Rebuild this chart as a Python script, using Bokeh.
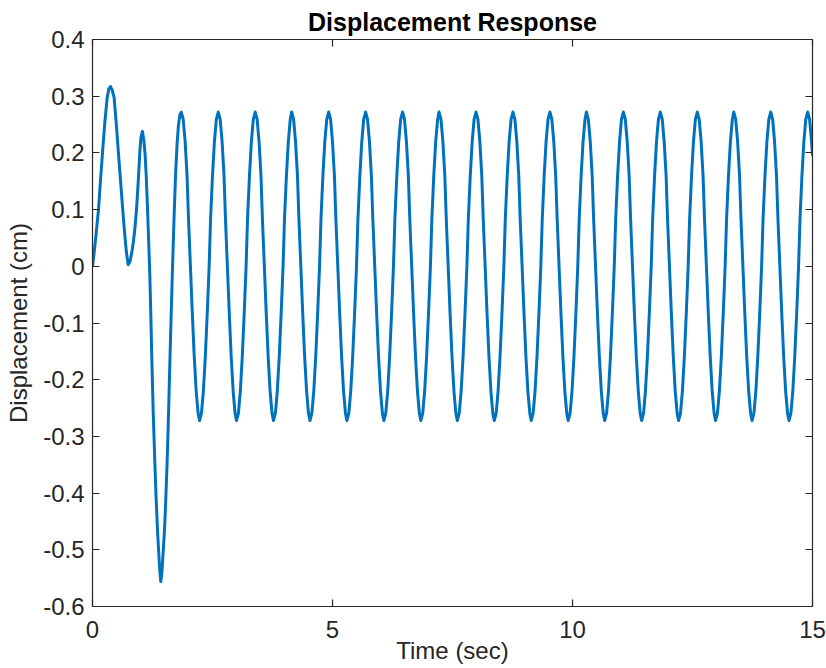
from bokeh.plotting import figure
from bokeh.models import Range1d, LinearAxis, FixedTicker, CustomJSTickFormatter
from bokeh.embed import file_html
from bokeh.resources import INLINE

# ---- data ----
# transient part (time in s, displacement in cm)
t_transient = [0.000, 0.030, 0.060, 0.090, 0.125, 0.165, 0.208, 0.255, 0.305, 0.340,
               0.375, 0.410, 0.450, 0.495, 0.540, 0.585, 0.630, 0.670, 0.705, 0.742,
               0.780, 0.820, 0.850, 0.880, 0.917, 0.950, 0.985, 1.010, 1.040, 1.070,
               1.096, 1.120, 1.145, 1.170, 1.194, 1.215, 1.235, 1.265, 1.298, 1.325,
               1.354, 1.390, 1.405, 1.423, 1.440, 1.455, 1.500, 1.525, 1.555, 1.585,
               1.610, 1.640, 1.667, 1.700, 1.730, 1.760, 1.790, 1.820]
y_transient = [0.000, 0.020, 0.045, 0.070, 0.100, 0.150, 0.200, 0.252, 0.297, 0.313,
               0.317, 0.311, 0.298, 0.252, 0.200, 0.150, 0.100, 0.058, 0.026, 0.003,
               0.008, 0.025, 0.042, 0.064, 0.100, 0.145, 0.200, 0.228, 0.238, 0.222,
               0.197, 0.158, 0.105, 0.045, -0.015, -0.085, -0.160, -0.258, -0.345, -0.408,
               -0.465, -0.520, -0.540, -0.556, -0.545, -0.528, -0.465, -0.415, -0.345, -0.258,
               -0.175, -0.082, -0.002, 0.088, 0.160, 0.213, 0.248, 0.267]

# steady oscillation (time in s, displacement in cm), one row per cycle
t_steady = [
    1.85, 1.89, 1.93, 1.97, 2.00, 2.04, 2.08, 2.12, 2.16, 2.20, 2.23, 2.27, 2.31, 2.35, 2.39, 2.43, 2.46, 2.50, 2.54, 2.58,
    2.62, 2.66, 2.70, 2.74, 2.77, 2.81, 2.85, 2.89, 2.93, 2.97, 3.00, 3.04, 3.08, 3.12, 3.16, 3.20, 3.23, 3.27, 3.31, 3.35,
    3.39, 3.43, 3.47, 3.51, 3.54, 3.58, 3.62, 3.66, 3.70, 3.74, 3.77, 3.81, 3.85, 3.89, 3.93, 3.97, 4.00, 4.04, 4.08, 4.12,
    4.15, 4.19, 4.23, 4.27, 4.30, 4.34, 4.38, 4.42, 4.46, 4.50, 4.53, 4.57, 4.61, 4.65, 4.69, 4.73, 4.76, 4.80, 4.84, 4.88,
    4.92, 4.96, 5.00, 5.04, 5.07, 5.11, 5.15, 5.19, 5.23, 5.27, 5.30, 5.34, 5.38, 5.42, 5.46, 5.50, 5.53, 5.57, 5.61, 5.65,
    5.69, 5.73, 5.77, 5.81, 5.84, 5.88, 5.92, 5.96, 6.00, 6.04, 6.07, 6.11, 6.15, 6.19, 6.23, 6.27, 6.30, 6.34, 6.38, 6.42,
    6.46, 6.50, 6.54, 6.58, 6.61, 6.65, 6.69, 6.73, 6.77, 6.81, 6.84, 6.88, 6.92, 6.96, 7.00, 7.04, 7.07, 7.11, 7.15, 7.19,
    7.22, 7.26, 7.30, 7.34, 7.37, 7.41, 7.45, 7.49, 7.53, 7.57, 7.60, 7.64, 7.68, 7.72, 7.76, 7.80, 7.83, 7.87, 7.91, 7.95,
    7.99, 8.03, 8.07, 8.11, 8.14, 8.18, 8.22, 8.26, 8.30, 8.34, 8.37, 8.41, 8.45, 8.49, 8.53, 8.57, 8.60, 8.64, 8.68, 8.72,
    8.76, 8.80, 8.84, 8.88, 8.91, 8.95, 8.99, 9.03, 9.07, 9.11, 9.14, 9.18, 9.22, 9.26, 9.30, 9.34, 9.37, 9.41, 9.45, 9.49,
    9.53, 9.57, 9.61, 9.65, 9.68, 9.72, 9.76, 9.80, 9.84, 9.88, 9.91, 9.95, 9.99, 10.03, 10.07, 10.11, 10.14, 10.18, 10.22, 10.26,
    10.29, 10.33, 10.37, 10.41, 10.44, 10.48, 10.52, 10.56, 10.60, 10.64, 10.67, 10.71, 10.75, 10.79, 10.83, 10.87, 10.90, 10.94, 10.98, 11.02,
    11.06, 11.10, 11.14, 11.18, 11.21, 11.25, 11.29, 11.33, 11.37, 11.41, 11.44, 11.48, 11.52, 11.56, 11.60, 11.64, 11.67, 11.71, 11.75, 11.79,
    11.83, 11.87, 11.91, 11.95, 11.98, 12.02, 12.06, 12.10, 12.14, 12.18, 12.21, 12.25, 12.29, 12.33, 12.37, 12.41, 12.44, 12.48, 12.52, 12.56,
    12.60, 12.64, 12.68, 12.72, 12.75, 12.79, 12.83, 12.87, 12.91, 12.95, 12.98, 13.02, 13.06, 13.10, 13.14, 13.18, 13.21, 13.25, 13.29, 13.33,
    13.36, 13.40, 13.44, 13.48, 13.51, 13.55, 13.59, 13.63, 13.67, 13.71, 13.74, 13.78, 13.82, 13.86, 13.90, 13.94, 13.97, 14.01, 14.05, 14.09,
    14.13, 14.17, 14.21, 14.25, 14.28, 14.32, 14.36, 14.40, 14.44, 14.48, 14.51, 14.55, 14.59, 14.63, 14.67, 14.71, 14.74, 14.78, 14.82, 14.86,
    14.90, 14.94, 14.98, 15.00,
]
y_steady = [
    0.272, 0.259, 0.220, 0.160, 0.084, 0.000, -0.084, -0.160, -0.220, -0.259, -0.272, -0.259, -0.220, -0.160, -0.084, 0.000, 0.084, 0.160, 0.220, 0.259,
    0.272, 0.259, 0.220, 0.160, 0.084, 0.000, -0.084, -0.160, -0.220, -0.259, -0.272, -0.259, -0.220, -0.160, -0.084, 0.000, 0.084, 0.160, 0.220, 0.259,
    0.272, 0.259, 0.220, 0.160, 0.084, 0.000, -0.084, -0.160, -0.220, -0.259, -0.272, -0.259, -0.220, -0.160, -0.084, 0.000, 0.084, 0.160, 0.220, 0.259,
    0.272, 0.259, 0.220, 0.160, 0.084, 0.000, -0.084, -0.160, -0.220, -0.259, -0.272, -0.259, -0.220, -0.160, -0.084, 0.000, 0.084, 0.160, 0.220, 0.259,
    0.272, 0.259, 0.220, 0.160, 0.084, 0.000, -0.084, -0.160, -0.220, -0.259, -0.272, -0.259, -0.220, -0.160, -0.084, 0.000, 0.084, 0.160, 0.220, 0.259,
    0.272, 0.259, 0.220, 0.160, 0.084, 0.000, -0.084, -0.160, -0.220, -0.259, -0.272, -0.259, -0.220, -0.160, -0.084, 0.000, 0.084, 0.160, 0.220, 0.259,
    0.272, 0.259, 0.220, 0.160, 0.084, 0.000, -0.084, -0.160, -0.220, -0.259, -0.272, -0.259, -0.220, -0.160, -0.084, 0.000, 0.084, 0.160, 0.220, 0.259,
    0.272, 0.259, 0.220, 0.160, 0.084, 0.000, -0.084, -0.160, -0.220, -0.259, -0.272, -0.259, -0.220, -0.160, -0.084, 0.000, 0.084, 0.160, 0.220, 0.259,
    0.272, 0.259, 0.220, 0.160, 0.084, 0.000, -0.084, -0.160, -0.220, -0.259, -0.272, -0.259, -0.220, -0.160, -0.084, 0.000, 0.084, 0.160, 0.220, 0.259,
    0.272, 0.259, 0.220, 0.160, 0.084, 0.000, -0.084, -0.160, -0.220, -0.259, -0.272, -0.259, -0.220, -0.160, -0.084, 0.000, 0.084, 0.160, 0.220, 0.259,
    0.272, 0.259, 0.220, 0.160, 0.084, 0.000, -0.084, -0.160, -0.220, -0.259, -0.272, -0.259, -0.220, -0.160, -0.084, 0.000, 0.084, 0.160, 0.220, 0.259,
    0.272, 0.259, 0.220, 0.160, 0.084, 0.000, -0.084, -0.160, -0.220, -0.259, -0.272, -0.259, -0.220, -0.160, -0.084, 0.000, 0.084, 0.160, 0.220, 0.259,
    0.272, 0.259, 0.220, 0.160, 0.084, 0.000, -0.084, -0.160, -0.220, -0.259, -0.272, -0.259, -0.220, -0.160, -0.084, 0.000, 0.084, 0.160, 0.220, 0.259,
    0.272, 0.259, 0.220, 0.160, 0.084, 0.000, -0.084, -0.160, -0.220, -0.259, -0.272, -0.259, -0.220, -0.160, -0.084, 0.000, 0.084, 0.160, 0.220, 0.259,
    0.272, 0.259, 0.220, 0.160, 0.084, 0.000, -0.084, -0.160, -0.220, -0.259, -0.272, -0.259, -0.220, -0.160, -0.084, 0.000, 0.084, 0.160, 0.220, 0.259,
    0.272, 0.259, 0.220, 0.160, 0.084, 0.000, -0.084, -0.160, -0.220, -0.259, -0.272, -0.259, -0.220, -0.160, -0.084, 0.000, 0.084, 0.160, 0.220, 0.259,
    0.272, 0.259, 0.220, 0.160, 0.084, 0.000, -0.084, -0.160, -0.220, -0.259, -0.272, -0.259, -0.220, -0.160, -0.084, 0.000, 0.084, 0.160, 0.220, 0.259,
    0.272, 0.259, 0.220, 0.195,
]

x_ticks = [0, 5, 10, 15]
y_ticks = [-0.6, -0.5, -0.4, -0.3, -0.2, -0.1, 0.0, 0.1, 0.2, 0.3, 0.4]
y_tick_labels = {-0.6: "-0.6", -0.5: "-0.5", -0.4: "-0.4", -0.3: "-0.3", -0.2: "-0.2",
                 -0.1: "-0.1", 0.0: "0", 0.1: "0.1", 0.2: "0.2", 0.3: "0.3", 0.4: "0.4"}

title_text = "Displacement Response"
x_label = "Time (sec)"
y_label = "Displacement (cm)"

# ---- figure ----
FONT = "Liberation Sans"
TXT = "#262626"
FS = "24px"

p = figure(width=826, height=668, output_backend="svg", toolbar_location=None,
           x_range=Range1d(0, 15), y_range=Range1d(-0.6, 0.4),
           min_border_left=92, min_border_right=14, min_border_top=39, min_border_bottom=62,
           x_axis_label=x_label, y_axis_label=y_label)

p.title.text = title_text
p.title.align = "center"
p.title.text_font = FONT
p.title.text_font_size = "25px"
p.title.text_font_style = "bold"
p.title.text_color = "black"
p.title.standoff = 8

p.grid.visible = False
p.outline_line_color = None
p.background_fill_color = "white"
p.border_fill_color = "white"

p.xaxis.ticker = FixedTicker(ticks=x_ticks)
p.yaxis.ticker = FixedTicker(ticks=y_ticks)
p.yaxis.major_label_overrides = y_tick_labels

for ax in (p.xaxis[0], p.yaxis[0]):
    ax.major_tick_in = 7
    ax.major_tick_out = 0
    ax.minor_tick_in = 0
    ax.minor_tick_out = 0
    ax.axis_line_color = TXT
    ax.axis_line_width = 1.2
    ax.major_tick_line_color = TXT
    ax.major_tick_line_width = 1.2
    ax.major_label_text_font = FONT
    ax.major_label_text_font_size = FS
    ax.major_label_text_color = TXT
    ax.axis_label_text_font = FONT
    ax.axis_label_text_font_size = FS
    ax.axis_label_text_font_style = "normal"
    ax.axis_label_text_color = TXT

p.xaxis.major_label_standoff = 14
p.xaxis.axis_label_standoff = -4
p.yaxis.major_label_standoff = 8
p.yaxis.axis_label_standoff = 8

blank = CustomJSTickFormatter(code="return ''")
top_ax = LinearAxis(ticker=FixedTicker(ticks=x_ticks), formatter=blank)
right_ax = LinearAxis(ticker=FixedTicker(ticks=y_ticks), formatter=blank)
for ax in (top_ax, right_ax):
    ax.major_tick_in = 7
    ax.major_tick_out = 0
    ax.minor_tick_in = 0
    ax.minor_tick_out = 0
    ax.axis_line_color = TXT
    ax.axis_line_width = 1.2
    ax.major_tick_line_color = TXT
    ax.major_tick_line_width = 1.2
    ax.major_label_standoff = 0
    ax.major_label_text_font_size = "1px"
p.add_layout(top_ax, "above")
p.add_layout(right_ax, "right")

p.line(t_transient + t_steady, y_transient + y_steady, line_color="#0072BD", line_width=3,
       line_join="round")

open("out.html", "w").write(file_html(p, INLINE))
